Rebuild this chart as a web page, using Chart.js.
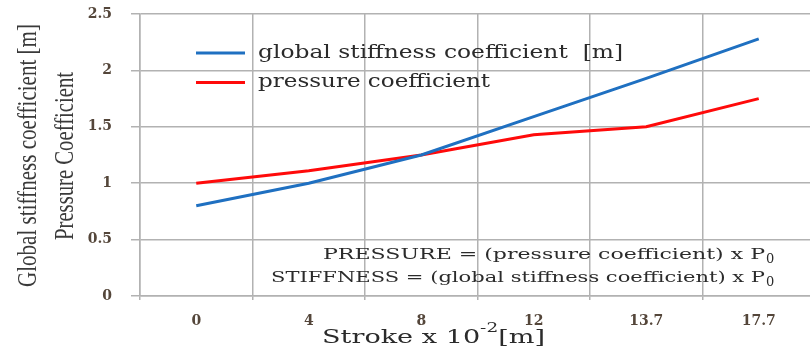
<!DOCTYPE html>
<html>
<head>
<meta charset="utf-8">
<script src="https://cdn.jsdelivr.net/npm/chart.js@4.4.1/dist/chart.umd.min.js"></script>
<style>
  html, body { margin: 0; padding: 0; background: #fff; overflow: hidden; }
  #wrap { width: 830px; height: 354px; }
</style>
</head>
<body>
<div id="wrap"><canvas id="c" width="830" height="354"></canvas></div>
<script>
// ── DATA ─────────────────────────────────────────────
var strokeLabels   = ['0', '4', '8', '12', '13.7', '17.7'];   // stroke x 10^-2 m
var stiffnessCoef  = [0.80, 1.00, 1.25, 1.59, 1.93, 2.28];
var pressureCoef   = [1.00, 1.11, 1.25, 1.43, 1.50, 1.75];
var yTickValues    = [0, 0.5, 1, 1.5, 2, 2.5];

var GRID  = '#b2b2b2';
var TICK  = '#54463a';
var SERIF = "'DejaVu Serif', serif";

// draw text stretched horizontally to a given width (the source font is wide)
function wideText(ctx, text, x, y, width, align) {
  var w = ctx.measureText(text).width;
  ctx.save();
  ctx.translate(x, y);
  ctx.scale(width / w, 1);
  ctx.textAlign = 'left';
  ctx.fillText(text, align === 'right' ? -w : 0, 0);
  ctx.restore();
}

// ── TEXT LAYER: axis titles, inner legend, formulas ──
var textLayer = {
  id: 'textLayer',
  afterDraw: function (chart) {
    var ctx = chart.ctx;
    ctx.save();
    ctx.fillStyle = '#2b2b2b';
    ctx.textBaseline = 'middle';

    // y title (two lines, rotated, condensed)
    ctx.save();
    ctx.translate(29, 156);
    ctx.rotate(-Math.PI / 2);
    ctx.font = "27px 'Liberation Serif', serif";
    ctx.fillStyle = '#3a3a3a';
    wideText(ctx, 'Global stiffness coefficient [m]', -131, 0, 263);
    wideText(ctx, 'Pressure Coefficient', -84, 37, 168);
    ctx.restore();

    // x title with superscript, stretched to 322..545
    var big = '19px ' + SERIF, small = '13px ' + SERIF;
    ctx.font = big;   var w1 = ctx.measureText('Stroke x 10').width, w3 = ctx.measureText('[m]').width;
    ctx.font = small; var w2 = ctx.measureText('-2').width;
    var k = 223 / (w1 + w2 + w3);
    ctx.save();
    ctx.translate(322, 338);
    ctx.scale(k, 1);
    ctx.textAlign = 'left';
    ctx.font = big;   ctx.fillText('Stroke x 10', 0, 0);
    ctx.font = small; ctx.fillText('-2', w1, -9);
    ctx.font = big;   ctx.fillText('[m]', w1 + w2, 0);
    ctx.restore();

    // legend inside the plot
    var widths = [365, 232];
    chart.data.datasets.forEach(function (ds, i) {
      var ly = 53 + i * 29.5;
      ctx.strokeStyle = ds.borderColor;
      ctx.lineWidth = 3;
      ctx.beginPath();
      ctx.moveTo(196, ly);
      ctx.lineTo(245, ly);
      ctx.stroke();
      ctx.font = '18px ' + SERIF;
      ctx.fillStyle = '#2b2b2b';
      wideText(ctx, ds.label, 258, ly, widths[i]);
    });

    // formulas, bottom right
    var lines = [
      ['PRESSURE = (pressure coefficient) x P', 255, 442],
      ['STIFFNESS = (global stiffness coefficient) x P', 278, 494]
    ];
    lines.forEach(function (l) {
      ctx.font = '15px ' + SERIF;
      wideText(ctx, l[0], 765, l[1], l[2], 'right');
      ctx.font = '13px ' + SERIF;
      ctx.textAlign = 'left';
      ctx.fillText('0', 766, l[1] + 5);
    });

    ctx.restore();
  }
};

new Chart(document.getElementById('c').getContext('2d'), {
  type: 'line',
  data: {
    labels: strokeLabels,
    datasets: [
      {
        label: 'global stiffness coefficient  [m]',
        data: stiffnessCoef,
        borderColor: '#1f70c1',
        borderWidth: 3,
        pointRadius: 0,
        tension: 0
      },
      {
        label: 'pressure coefficient',
        data: pressureCoef,
        borderColor: '#ff0a0a',
        borderWidth: 3,
        pointRadius: 0,
        tension: 0
      }
    ]
  },
  options: {
    responsive: false,
    animation: false,
    layout: { autoPadding: false, padding: { left: 0, top: 14, right: 15, bottom: 0 } },
    plugins: {
      legend: { display: false },
      tooltip: { enabled: false }
    },
    scales: {
      x: {
        offset: true,
        grid: { offset: true, color: GRID, lineWidth: 1.5, tickLength: 4 },
        border: { color: GRID, width: 1.5 },
        ticks: {
          color: TICK, padding: 13,
          font: { family: "'DejaVu Serif', serif", size: 14, weight: 'bold' }
        },
        afterFit: function (s) { s.height = 58; }
      },
      y: {
        min: 0,
        max: 2.5,
        afterBuildTicks: function (s) {
          s.ticks = yTickValues.map(function (v) { return { value: v }; });
        },
        grid: { color: GRID, lineWidth: 1.5, tickLength: 9 },
        border: { color: GRID, width: 1.5 },
        ticks: {
          color: TICK, padding: 19,
          font: { family: "'DejaVu Serif', serif", size: 14, weight: 'bold' },
          callback: function (v) { return String(v); }
        },
        // fixed width; drop the label padding so the tick padding does not push the top down
        afterFit: function (s) { s.width = 140; s.paddingTop = 0; s.paddingBottom = 0; }
      }
    }
  },
  plugins: [textLayer]
});
</script>
</body>
</html>
